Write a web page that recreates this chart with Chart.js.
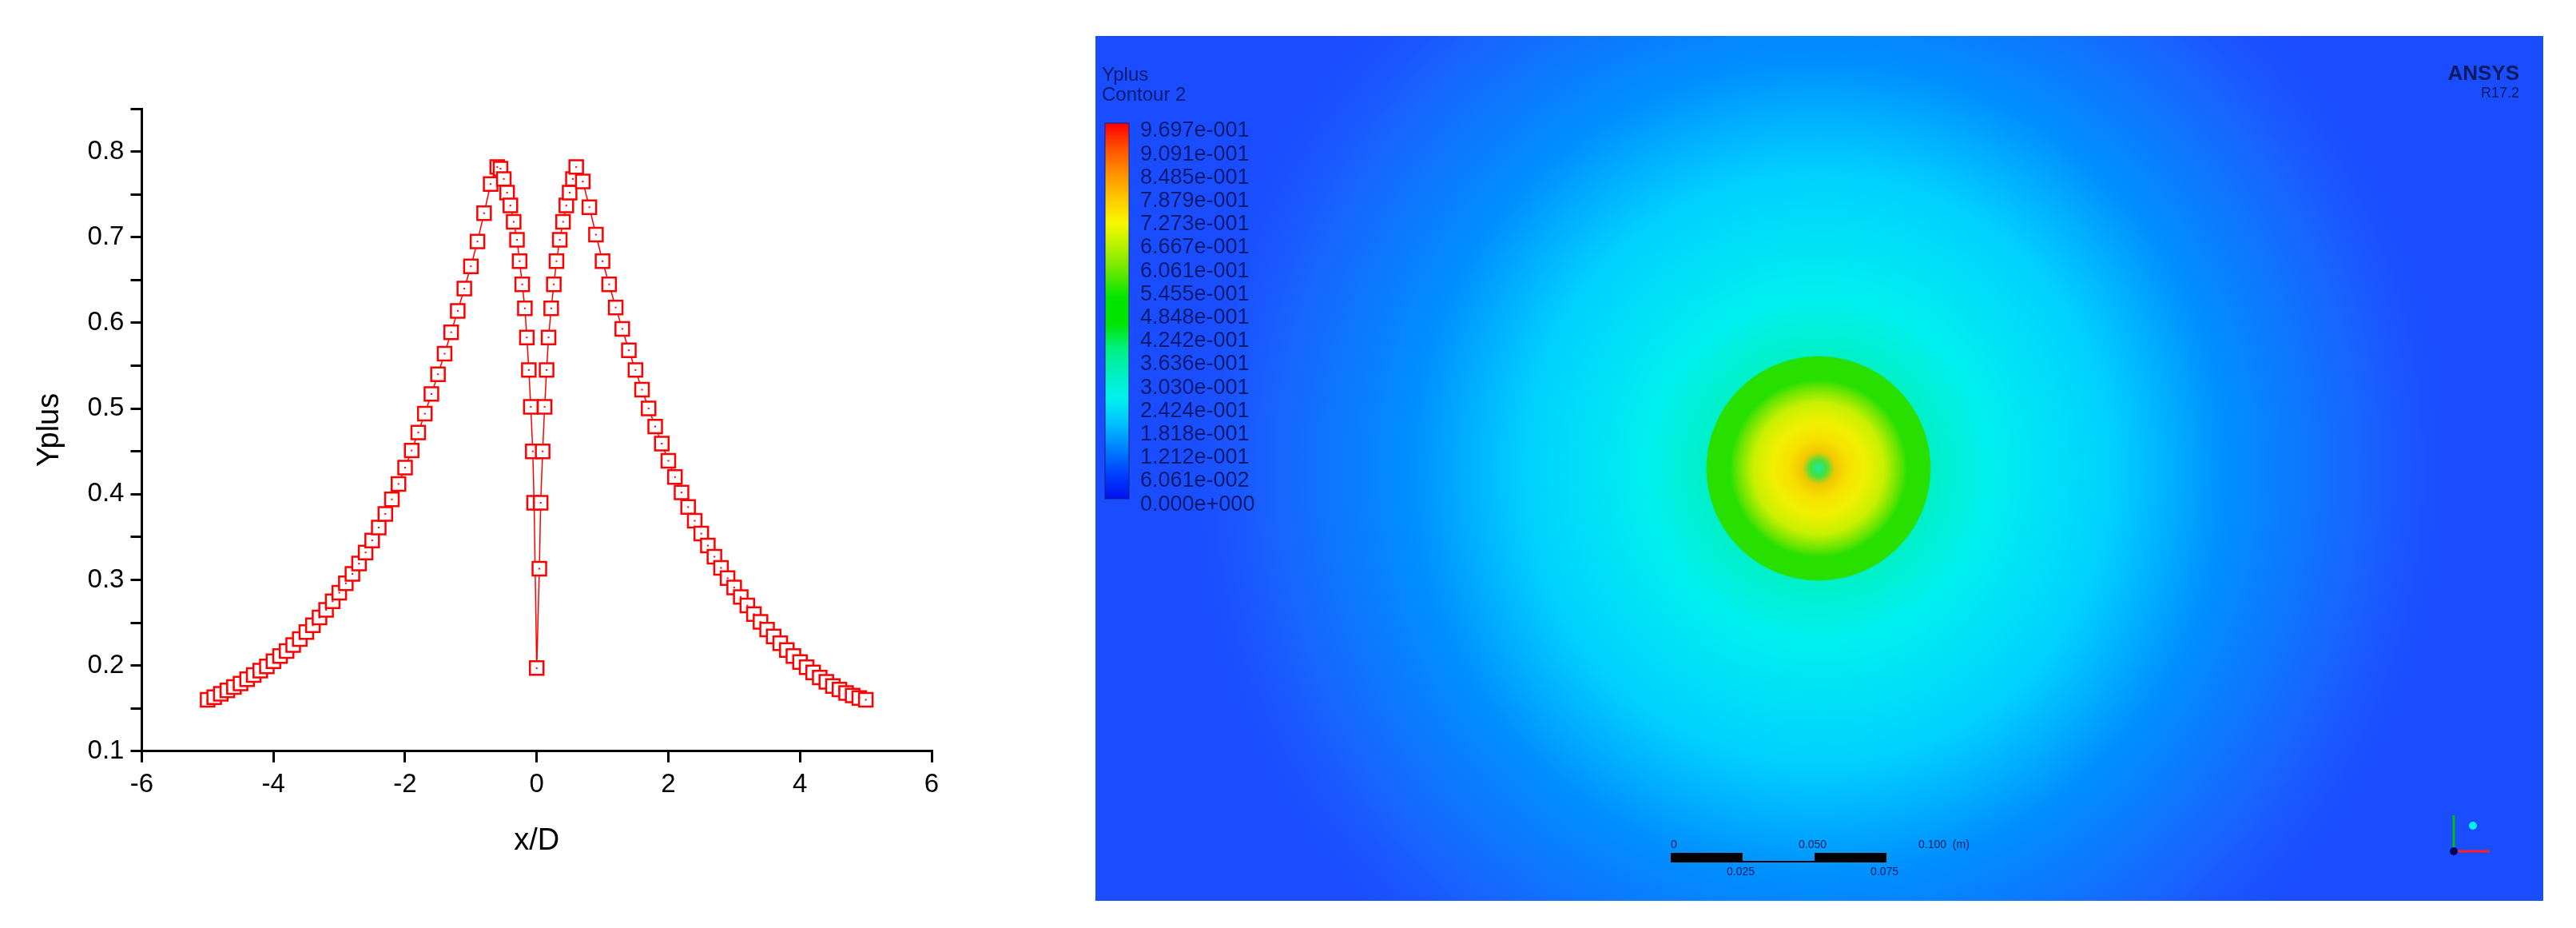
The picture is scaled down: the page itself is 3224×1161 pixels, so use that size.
<!DOCTYPE html>
<html><head><meta charset="utf-8">
<script src="https://cdn.jsdelivr.net/npm/chart.js@4"></script>
<style>
body{margin:0;background:#fff;width:3224px;height:1161px;overflow:hidden;position:relative}
canvas{position:absolute}
</style></head><body>
<canvas id="yplus" width="1250" height="1161" style="left:0;top:0"></canvas>
<canvas id="contour" width="1812" height="1082" style="left:1371px;top:45px"></canvas>
<script>
// left branch, outer side (x/D, Yplus)
const leftX = [-5.0,-4.9,-4.8,-4.7,-4.6,-4.5,-4.4,-4.3,-4.2,-4.1,-4.0,-3.9,-3.8,-3.7,-3.6,-3.5,-3.4,-3.3,-3.2,-3.1,-3.0,-2.9,-2.8,-2.7,-2.6,-2.5,-2.4,-2.3,-2.2,-2.1,-2.0,-1.9,-1.8,-1.7,-1.6,-1.5,-1.4,-1.3,-1.2,-1.1,-1.0,-0.9,-0.8,-0.7,-0.6];
const leftY = [0.160,0.163,0.167,0.171,0.175,0.179,0.184,0.189,0.194,0.199,0.205,0.211,0.217,0.224,0.231,0.239,0.247,0.256,0.265,0.275,0.285,0.296,0.307,0.319,0.332,0.346,0.361,0.377,0.394,0.412,0.431,0.451,0.472,0.494,0.517,0.540,0.564,0.589,0.614,0.640,0.666,0.695,0.728,0.762,0.782];
// inner part near the cylinder
const innerX = [-0.55,-0.5,-0.45,-0.4,-0.35,-0.3,-0.26,-0.22,-0.18,-0.15,-0.12,-0.09,-0.06,-0.04,0.0,0.04,0.06,0.09,0.12,0.15,0.18,0.22,0.26,0.3,0.35,0.4,0.45,0.5,0.55];
const innerY = [0.780,0.768,0.752,0.737,0.718,0.697,0.672,0.645,0.617,0.583,0.545,0.502,0.450,0.390,0.197,0.313,0.390,0.450,0.502,0.545,0.583,0.617,0.645,0.672,0.697,0.718,0.737,0.752,0.768];
// right branch, outer side
const rightX = [0.6,0.7,0.8,0.9,1.0,1.1,1.2,1.3,1.4,1.5,1.6,1.7,1.8,1.9,2.0,2.1,2.2,2.3,2.4,2.5,2.6,2.7,2.8,2.9,3.0,3.1,3.2,3.3,3.4,3.5,3.6,3.7,3.8,3.9,4.0,4.1,4.2,4.3,4.4,4.5,4.6,4.7,4.8,4.9,5.0];
const rightY = [0.782,0.765,0.735,0.703,0.672,0.645,0.618,0.593,0.568,0.545,0.522,0.500,0.479,0.459,0.439,0.420,0.402,0.385,0.369,0.354,0.340,0.327,0.314,0.302,0.291,0.280,0.270,0.260,0.251,0.242,0.234,0.226,0.218,0.211,0.204,0.198,0.192,0.186,0.181,0.176,0.172,0.168,0.165,0.162,0.160];

const colorbarLabels = ['9.697e-001','9.091e-001','8.485e-001','7.879e-001','7.273e-001','6.667e-001','6.061e-001','5.455e-001','4.848e-001','4.242e-001','3.636e-001','3.030e-001','2.424e-001','1.818e-001','1.212e-001','6.061e-002','0.000e+000'];
const colorbarStops = ['#ff0000','#ff5000','#ff9000','#ffc800','#f8f800','#b0f000','#60e800','#00e400','#00e400','#00f080','#00f0c0','#00f0f0','#00c0ff','#0080ff','#0040ff','#0010f0'];

const pts = [];
leftX.forEach((x, i) => pts.push({x, y: leftY[i]}));
innerX.forEach((x, i) => pts.push({x, y: innerY[i]}));
rightX.forEach((x, i) => pts.push({x, y: rightY[i]}));

const centreDot = {
  id: 'centreDot',
  afterDatasetsDraw(chart) {
    const ctx = chart.ctx;
    ctx.fillStyle = '#ff0000';
    chart.getDatasetMeta(0).data.forEach(p => ctx.fillRect(p.x - 1, p.y - 1, 2, 2));
  }
};

const tickFont = {family: 'Liberation Sans', size: 33};
new Chart(document.getElementById('yplus'), {
  type: 'line',
  data: {datasets: [{
    data: pts, borderColor: '#ff0000', borderWidth: 1.5,
    pointStyle: 'rect', pointRadius: 12, pointBorderWidth: 2.5,
    pointBackgroundColor: '#ffffff', pointBorderColor: '#ff0000', tension: 0
  }]},
  options: {
    responsive: false, devicePixelRatio: 1, animation: false,
    layout: {padding: {top: 136, left: 36, right: 84, bottom: 82}},
    plugins: {legend: {display: false}, tooltip: {enabled: false}},
    scales: {
      x: {type: 'linear', min: -6, max: 6,
        ticks: {stepSize: 2, color: '#000', font: tickFont, padding: 8},
        grid: {drawOnChartArea: false, color: '#000', tickLength: 14, lineWidth: 3},
        border: {color: '#000', width: 3},
        title: {display: true, text: 'x/D', color: '#000', font: {family: 'Liberation Sans', size: 38}, padding: {top: 20}}},
      y: {type: 'linear', min: 0.1, max: 0.85,
        ticks: {stepSize: 0.05, color: '#000', font: tickFont, padding: 8,
          callback: v => Math.abs(v * 10 - Math.round(v * 10)) < 1e-6 ? v.toFixed(1) : ''},
        grid: {drawOnChartArea: false, color: '#000', tickLength: 14, lineWidth: 3},
        border: {color: '#000', width: 3},
        title: {display: true, text: 'Yplus', color: '#000', font: {family: 'Liberation Sans', size: 38}, padding: {bottom: 16}}}
    }
  },
  plugins: [centreDot]
});

// contour panel: field drawn as background of an empty chart
const contourField = {
  id: 'contourField',
  beforeDraw(chart) {
    const ctx = chart.ctx, w = chart.width, h = chart.height;
    ctx.fillStyle = '#1a4dff';
    ctx.fillRect(0, 0, w, h);
    const cx = 905, cy = 541;
    let g = ctx.createRadialGradient(cx, cy, 0, cx, cy, 820);
    g.addColorStop(0.0, '#20e8a0');
    g.addColorStop(0.012, '#40e040');
    g.addColorStop(0.025, '#f0c800');
    g.addColorStop(0.045, '#f8e000');
    g.addColorStop(0.07, '#f0f000');
    g.addColorStop(0.1, '#c8f000');
    g.addColorStop(0.125, '#60e400');
    g.addColorStop(0.135, '#28e000');
    g.addColorStop(0.17, '#28e000');
    g.addColorStop(0.172, '#00f0c8');
    g.addColorStop(0.26, '#00f0f0');
    g.addColorStop(0.45, '#00d0ff');
    g.addColorStop(0.62, '#0090ff');
    g.addColorStop(0.85, '#1a60ff');
    g.addColorStop(1.0, 'rgba(26,77,255,0)');
    ctx.fillStyle = g;
    ctx.fillRect(0, 0, w, h);
    // colour bar
    const bx = 12, by = 109, bw = 30, bh = 470;
    const lg = ctx.createLinearGradient(0, by, 0, by + bh);
    colorbarStops.forEach((c, i) => lg.addColorStop(i / (colorbarStops.length - 1), c));
    ctx.fillStyle = lg;
    ctx.fillRect(bx, by, bw, bh);
    ctx.strokeStyle = '#102080';
    ctx.strokeRect(bx, by, bw, bh);
    ctx.fillStyle = '#0a1a70';
    ctx.font = '27px "Liberation Sans"';
    ctx.textBaseline = 'middle';
    colorbarLabels.forEach((t, i) => ctx.fillText(t, 56, 119 + i * 29.2));
    ctx.font = '24px "Liberation Sans"';
    ctx.fillText('Yplus', 8, 49);
    ctx.fillText('Contour 2', 8, 74);
    ctx.font = 'bold 26px "Liberation Sans"';
    ctx.fillStyle = '#0a1a60';
    ctx.textAlign = 'right';
    ctx.fillText('ANSYS', 1782, 48);
    ctx.font = '18px "Liberation Sans"';
    ctx.fillText('R17.2', 1782, 72);
    // scale bar
    ctx.textAlign = 'left';
    ctx.fillStyle = '#000';
    ctx.fillRect(720, 1022, 90, 12);
    ctx.fillRect(900, 1022, 90, 12);
    ctx.fillRect(810, 1032, 180, 2);
    ctx.font = '14px "Liberation Sans"';
    ctx.fillStyle = '#0a1a60';
    ctx.fillText('0', 720, 1012); ctx.fillText('0.050', 880, 1012); ctx.fillText('0.100  (m)', 1030, 1012);
    ctx.fillText('0.025', 790, 1046); ctx.fillText('0.075', 970, 1046);
    // axis triad
    ctx.strokeStyle = '#00c000'; ctx.lineWidth = 3;
    ctx.beginPath(); ctx.moveTo(1700, 1020); ctx.lineTo(1700, 975); ctx.stroke();
    ctx.strokeStyle = '#ff2020';
    ctx.beginPath(); ctx.moveTo(1700, 1020); ctx.lineTo(1745, 1020); ctx.stroke();
    ctx.fillStyle = '#000060'; ctx.beginPath(); ctx.arc(1700, 1020, 5, 0, 7); ctx.fill();
    ctx.fillStyle = '#00f0f0'; ctx.beginPath(); ctx.arc(1724, 988, 5, 0, 7); ctx.fill();
  }
};
new Chart(document.getElementById('contour'), {
  type: 'scatter',
  data: {datasets: [{data: []}]},
  options: {
    responsive: false, devicePixelRatio: 1, animation: false,
    plugins: {legend: {display: false}, tooltip: {enabled: false}},
    scales: {x: {display: false}, y: {display: false}}
  },
  plugins: [contourField]
});
</script>
</body></html>
